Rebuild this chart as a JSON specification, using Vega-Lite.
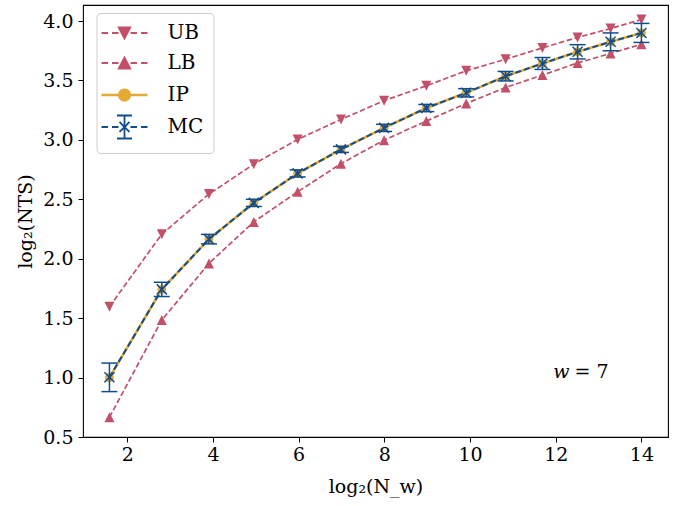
{
  "$schema": "https://vega.github.io/schema/vega-lite/v6.json",
  "width": 585,
  "height": 432,
  "autosize": {"type": "none"},
  "padding": {"left": 83, "top": 5, "right": 26, "bottom": 69},
  "background": "white",
  "config": {
    "view": {"stroke": "black", "strokeWidth": 1.1},
    "font": "DejaVu Serif, serif",
    "axis": {
      "domain": false,
      "grid": false,
      "tickColor": "black",
      "tickSize": 5,
      "tickWidth": 1,
      "labelFont": "DejaVu Serif, serif",
      "labelFontSize": 19,
      "labelColor": "black",
      "titleFont": "DejaVu Serif, serif",
      "titleFontSize": 19,
      "titleFontWeight": "normal",
      "titleColor": "black"
    },
    "legend": {
      "orient": "none",
      "legendX": 13.5,
      "legendY": 8,
      "padding": 10,
      "fillColor": "white",
      "strokeColor": "#cccccc",
      "cornerRadius": 4,
      "labelFont": "DejaVu Serif, serif",
      "labelFontSize": 20,
      "labelColor": "black",
      "labelOffset": 33,
      "symbolOffset": 8,
      "symbolSize": 100,
      "rowPadding": -2
    }
  },
  "datasets": {
    "d": [
      {"s": "UB", "x": 1.585, "y": 1.596}, {"s": "UB", "x": 2.807, "y": 2.207}, {"s": "UB", "x": 3.907, "y": 2.544},
      {"s": "UB", "x": 4.954, "y": 2.796}, {"s": "UB", "x": 5.977, "y": 3.004}, {"s": "UB", "x": 6.989, "y": 3.172},
      {"s": "UB", "x": 7.994, "y": 3.33}, {"s": "UB", "x": 8.98, "y": 3.455}, {"s": "UB", "x": 9.91, "y": 3.581},
      {"s": "UB", "x": 10.83, "y": 3.679}, {"s": "UB", "x": 11.69, "y": 3.774}, {"s": "UB", "x": 12.51, "y": 3.862},
      {"s": "UB", "x": 13.28, "y": 3.937}, {"s": "UB", "x": 14.0, "y": 4.013},
      {"s": "LB", "x": 1.585, "y": 0.666}, {"s": "LB", "x": 2.807, "y": 1.484}, {"s": "LB", "x": 3.907, "y": 1.96},
      {"s": "LB", "x": 4.954, "y": 2.31}, {"s": "LB", "x": 5.977, "y": 2.563}, {"s": "LB", "x": 6.989, "y": 2.8},
      {"s": "LB", "x": 7.994, "y": 2.998}, {"s": "LB", "x": 8.98, "y": 3.158}, {"s": "LB", "x": 9.91, "y": 3.306},
      {"s": "LB", "x": 10.83, "y": 3.441}, {"s": "LB", "x": 11.69, "y": 3.545}, {"s": "LB", "x": 12.51, "y": 3.648},
      {"s": "LB", "x": 13.28, "y": 3.727}, {"s": "LB", "x": 14.0, "y": 3.805},
      {"s": "IP", "x": 1.585, "y": 1.0}, {"s": "IP", "x": 2.807, "y": 1.742}, {"s": "IP", "x": 3.907, "y": 2.165},
      {"s": "IP", "x": 4.954, "y": 2.47}, {"s": "IP", "x": 5.977, "y": 2.718}, {"s": "IP", "x": 6.989, "y": 2.92},
      {"s": "IP", "x": 7.994, "y": 3.101}, {"s": "IP", "x": 8.98, "y": 3.268}, {"s": "IP", "x": 9.91, "y": 3.396},
      {"s": "IP", "x": 10.83, "y": 3.536}, {"s": "IP", "x": 11.69, "y": 3.643}, {"s": "IP", "x": 12.51, "y": 3.741},
      {"s": "IP", "x": 13.28, "y": 3.825}, {"s": "IP", "x": 14.0, "y": 3.9},
      {"s": "MC", "x": 1.585, "y": 1.002, "lo": 0.882, "hi": 1.122},
      {"s": "MC", "x": 2.807, "y": 1.742, "lo": 1.682, "hi": 1.802},
      {"s": "MC", "x": 3.907, "y": 2.165, "lo": 2.125, "hi": 2.205},
      {"s": "MC", "x": 4.954, "y": 2.47, "lo": 2.44, "hi": 2.5},
      {"s": "MC", "x": 5.977, "y": 2.718, "lo": 2.688, "hi": 2.748},
      {"s": "MC", "x": 6.989, "y": 2.92, "lo": 2.895, "hi": 2.945},
      {"s": "MC", "x": 7.994, "y": 3.101, "lo": 3.071, "hi": 3.131},
      {"s": "MC", "x": 8.98, "y": 3.268, "lo": 3.238, "hi": 3.298},
      {"s": "MC", "x": 9.91, "y": 3.396, "lo": 3.361, "hi": 3.431},
      {"s": "MC", "x": 10.83, "y": 3.536, "lo": 3.496, "hi": 3.576},
      {"s": "MC", "x": 11.69, "y": 3.643, "lo": 3.593, "hi": 3.693},
      {"s": "MC", "x": 12.51, "y": 3.741, "lo": 3.681, "hi": 3.801},
      {"s": "MC", "x": 13.28, "y": 3.825, "lo": 3.75, "hi": 3.9},
      {"s": "MC", "x": 14.0, "y": 3.9, "lo": 3.82, "hi": 3.98}
    ]
  },
  "data": {"name": "d"},
  "encoding": {
    "x": {
      "field": "x", "type": "quantitative",
      "scale": {"domain": [0.968, 14.62], "nice": false, "zero": false},
      "axis": {"values": [2, 4, 6, 8, 10, 12, 14], "title": "log₂(N_w)", "labelPadding": 3, "titlePadding": 13}
    },
    "y": {
      "field": "y", "type": "quantitative",
      "scale": {"domain": [0.5, 4.135], "nice": false, "zero": false},
      "axis": {"values": [0.5, 1, 1.5, 2, 2.5, 3, 3.5, 4], "format": ".1f", "title": "log₂(NTS)", "labelPadding": 5, "titlePadding": 7}
    }
  },
  "layer": [
    {
      "transform": [{"filter": "datum.s === 'UB' || datum.s === 'LB'"}],
      "mark": {"type": "line", "strokeWidth": 1.7, "strokeDash": [5.5, 2.6]},
      "encoding": {
        "detail": {"field": "s"},
        "color": {
          "field": "s", "type": "nominal",
          "scale": {"domain": ["UB", "LB", "IP", "MC"], "range": ["#c25068", "#c25068", "#e3ab33", "#104d8e"]},
          "legend": {
            "title": null,
            "encode": {
              "symbols": {
                "update": {
                  "shape": {"signal": "datum.value === 'UB' ? 'M0,-2.45M0,2.45M-4.6,0H-3.3M-2.5,0H-1.2M1.2,0H2.5M3.3,0H4.6M-1.15,-1.1L1.15,-1.1L0,1.1Z' : datum.value === 'LB' ? 'M0,-2.45M0,2.45M-4.6,0H-3.3M-2.5,0H-1.2M1.2,0H2.5M3.3,0H4.6M-1.15,1.1L1.15,1.1L0,-1.1Z' : datum.value === 'IP' ? 'M0,-2.45M0,2.45M-4.6,0H4.6M-1.05,0A1.05,1.05 0 1,0 1.05,0A1.05,1.05 0 1,0 -1.05,0Z' : 'M-4.6,0H-3.3M-2.5,0H-1.2M1.2,0H2.5M3.3,0H4.6M0,-2.3V2.3M-1.5,-2.3H1.5M-1.5,2.3H1.5M-1,-1L1,1M1,-1L-1,1'"},
                  "fill": {"signal": "scale('color', datum.value)"},
                  "stroke": {"signal": "scale('color', datum.value)"},
                  "strokeWidth": {"signal": "datum.value === 'IP' ? 2.6 : 1.8"},
                  "strokeDash": {"value": [1, 0]},
                  "size": {"value": 100},
                  "opacity": {"value": 1}
                }
              }
            }
          }
        }
      }
    },
    {
      "transform": [{"filter": "datum.s === 'UB'"}],
      "mark": {"type": "point", "shape": "M-1,-1L1,-1L0,1Z", "filled": true, "size": 100, "color": "#c25068", "opacity": 1}
    },
    {
      "transform": [{"filter": "datum.s === 'LB'"}],
      "mark": {"type": "point", "shape": "M-1,1L1,1L0,-1Z", "filled": true, "size": 100, "color": "#c25068", "opacity": 1}
    },
    {
      "transform": [{"filter": "datum.s === 'IP'"}],
      "mark": {"type": "line", "strokeWidth": 2.6, "color": "#e3ab33"}
    },
    {
      "transform": [{"filter": "datum.s === 'IP'"}],
      "mark": {"type": "point", "shape": "circle", "filled": true, "size": 80, "color": "#e3ab33", "opacity": 1}
    },
    {
      "transform": [{"filter": "datum.s === 'MC'"}],
      "mark": {"type": "line", "strokeWidth": 2, "strokeDash": [6, 3], "color": "#104d8e"}
    },
    {
      "transform": [{"filter": "datum.s === 'MC'"}],
      "mark": {"type": "rule", "strokeWidth": 1.5, "color": "#104d8e"},
      "encoding": {"y": {"field": "lo", "type": "quantitative"}, "y2": {"field": "hi"}}
    },
    {
      "transform": [{"filter": "datum.s === 'MC'"}],
      "mark": {"type": "point", "shape": "M-1,0H1", "filled": false, "size": 256, "strokeWidth": 1.5, "color": "#104d8e", "opacity": 1},
      "encoding": {"y": {"field": "lo", "type": "quantitative"}}
    },
    {
      "transform": [{"filter": "datum.s === 'MC'"}],
      "mark": {"type": "point", "shape": "M-1,0H1", "filled": false, "size": 256, "strokeWidth": 1.5, "color": "#104d8e", "opacity": 1},
      "encoding": {"y": {"field": "hi", "type": "quantitative"}}
    },
    {
      "transform": [{"filter": "datum.s === 'MC'"}],
      "mark": {"type": "point", "shape": "M-1,-1L1,1M1,-1L-1,1", "filled": false, "size": 100, "strokeWidth": 1.5, "color": "#104d8e", "opacity": 1}
    },
    {
      "transform": [{"filter": "datum.s === 'MC' && datum.x === 14"}],
      "mark": {"type": "text", "text": "w", "fontStyle": "italic", "fontSize": 19, "align": "right", "baseline": "middle", "dx": -1, "color": "black"},
      "encoding": {"x": {"datum": 12.345}, "y": {"datum": 1.047}}
    },
    {
      "transform": [{"filter": "datum.s === 'MC' && datum.x === 14"}],
      "mark": {"type": "text", "text": "= 7", "fontSize": 19, "align": "left", "baseline": "middle", "dx": 4, "color": "black"},
      "encoding": {"x": {"datum": 12.345}, "y": {"datum": 1.047}}
    }
  ]
}
